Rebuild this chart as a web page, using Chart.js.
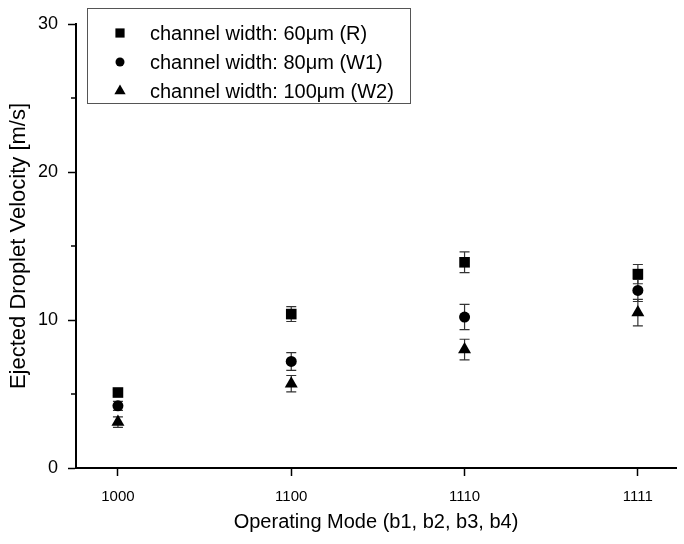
<!DOCTYPE html>
<html>
<head>
<meta charset="utf-8">
<script src="https://cdn.jsdelivr.net/npm/chart.js@4.4.0/dist/chart.umd.min.js"></script>
<style>
  html, body { margin: 0; padding: 0; background: #fff; }
  #wrap { width: 684px; height: 544px; position: relative; }
</style>
</head>
<body>
<div id="wrap"><canvas id="myChart"></canvas></div>
<script>
// operating modes (x categories)
const modes = ['1000', '1100', '1110', '1111'];

// velocities [m/s] and error bars per channel width
const v60 = [5.1, 10.4, 13.9, 13.1];
const err60 = [0.2, 0.5, 0.7, 0.65];
const v80 = [4.2, 7.2, 10.2, 12.0];
const err80 = [0.3, 0.6, 0.85, 0.75];
const v100 = [3.1, 5.7, 8.0, 10.5];
const err100 = [0.35, 0.55, 0.7, 0.9];

const seriesLabels = [
    'channel width: 60\u03bcm (R)',
    'channel width: 80\u03bcm (W1)',
    'channel width: 100\u03bcm (W2)'
];

const yTicks = [0, 10, 20, 30];

const FONT = "'Liberation Sans', Arial, sans-serif";

function points(vals, errs) {
    return vals.map((v, i) => ({ x: i, y: v, err: errs[i] }));
}

// error bars + minor y ticks
const errorBars = {
    id: 'errorBars',
    beforeDatasetsDraw(chart) {
        const ctx = chart.ctx;
        const xs = chart.scales.x, ys = chart.scales.y;
        ctx.save();
        ctx.strokeStyle = '#333';
        ctx.lineWidth = 1.2;
        chart.data.datasets.forEach(ds => {
            ds.data.forEach(p => {
                const x = xs.getPixelForValue(p.x);
                const top = ys.getPixelForValue(p.y + p.err);
                const bot = ys.getPixelForValue(p.y - p.err);
                ctx.beginPath();
                ctx.moveTo(x, top); ctx.lineTo(x, bot);
                ctx.moveTo(x - 5, top); ctx.lineTo(x + 5, top);
                ctx.moveTo(x - 5, bot); ctx.lineTo(x + 5, bot);
                ctx.stroke();
            });
        });
        // minor ticks at 5, 15, 25
        ctx.strokeStyle = '#000';
        ctx.lineWidth = 1.5;
        [5, 15, 25].forEach(v => {
            const y = ys.getPixelForValue(v);
            ctx.beginPath();
            ctx.moveTo(ys.right - 5, y); ctx.lineTo(ys.right, y);
            ctx.stroke();
        });
        ctx.restore();
    }
};

// boxed legend inside the plot
const boxLegend = {
    id: 'boxLegend',
    afterDraw(chart) {
        const ctx = chart.ctx;
        ctx.save();
        ctx.strokeStyle = '#555';
        ctx.lineWidth = 1;
        ctx.fillStyle = '#fff';
        ctx.fillRect(87.5, 8.5, 323, 95);
        ctx.strokeRect(87.5, 8.5, 323, 95);
        ctx.font = '20px ' + FONT;
        ctx.textBaseline = 'middle';
        chart.data.datasets.forEach((ds, i) => {
            const y = 33 + i * 29;
            ctx.fillStyle = '#000';
            ctx.strokeStyle = '#000';
            Chart.helpers.drawPoint(ctx, {
                pointStyle: ds.pointStyle, radius: ds.pointRadius - 1,
                borderWidth: 0, rotation: 0
            }, 120, y);
            ctx.fillText(ds.label, 150, y + 1);
        });
        ctx.restore();
    }
};

document.addEventListener('DOMContentLoaded', function () {
    const mk = (label, data, style, r) => ({
        label: label,
        data: data,
        pointStyle: style,
        pointRadius: r,
        pointHoverRadius: r,
        backgroundColor: '#000',
        borderColor: '#000',
        borderWidth: 0,
        showLine: false
    });

    const data = {
        datasets: [
            mk(seriesLabels[0], points(v60, err60), 'rect', 7.5),
            mk(seriesLabels[1], points(v80, err80), 'circle', 5.5),
            mk(seriesLabels[2], points(v100, err100), 'triangle', 7.5)
        ]
    };

    const config = {
        type: 'scatter',
        data: data,
        options: {
            responsive: true,
            maintainAspectRatio: false,
            animation: false,
            layout: { padding: { top: 24, right: 8, left: 0, bottom: 0 } },
            plugins: {
                legend: { display: false },
                tooltip: { enabled: false }
            },
            scales: {
                x: {
                    type: 'linear',
                    min: -0.242,
                    max: 3.22,
                    afterBuildTicks: s => { s.ticks = modes.map((m, i) => ({ value: i })); },
                    afterFit: s => { s.height = 76; },
                    border: { color: '#000', width: 2 },
                    grid: { drawOnChartArea: false, drawTicks: true, tickLength: 8, tickColor: '#000', tickWidth: 1.5 },
                    ticks: {
                        padding: 12,
                        color: '#000',
                        font: { family: FONT, size: 15 },
                        callback: v => modes[v]
                    },
                    title: {
                        display: true,
                        text: 'Operating Mode (b1, b2, b3, b4)',
                        color: '#000',
                        font: { family: FONT, size: 20 },
                        padding: { top: 0, bottom: 10 }
                    }
                },
                y: {
                    min: 0,
                    max: 30,
                    afterBuildTicks: s => { s.ticks = yTicks.map(v => ({ value: v })); },
                    afterFit: s => { s.width = 76; },
                    border: { color: '#000', width: 2 },
                    grid: { drawOnChartArea: false, drawTicks: true, tickLength: 8, tickColor: '#000', tickWidth: 1.5 },
                    ticks: {
                        padding: 10,
                        color: '#000',
                        font: { family: FONT, size: 18 }
                    },
                    title: {
                        display: true,
                        text: 'Ejected Droplet Velocity [m/s]',
                        color: '#000',
                        font: { family: FONT, size: 22 },
                        padding: { top: 6, bottom: 0 }
                    }
                }
            }
        },
        plugins: [errorBars, boxLegend]
    };

    const ctx = document.getElementById('myChart').getContext('2d');
    new Chart(ctx, config);
});
</script>
</body>
</html>
